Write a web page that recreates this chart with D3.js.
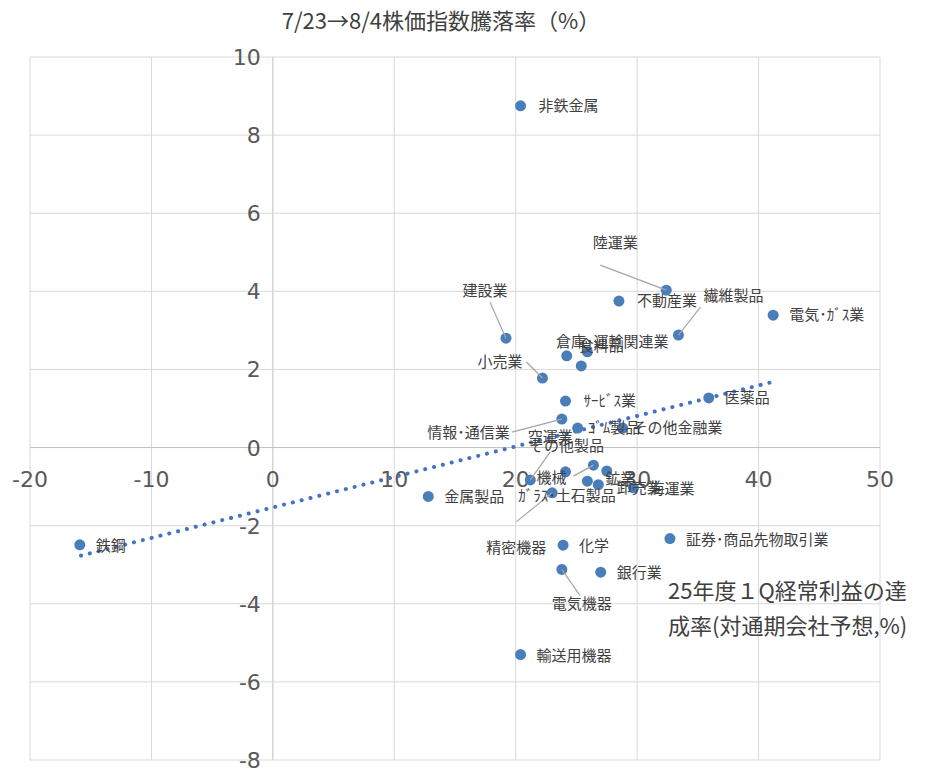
<!DOCTYPE html>
<html><head><meta charset="utf-8">
<script src="https://cdn.jsdelivr.net/npm/d3@7"></script>
<style>body{margin:0;background:#fff;font-family:"Noto Sans CJK JP",sans-serif;}</style>
</head><body><svg id="c" width="934" height="783"></svg>
<script>
// 業種, 経常利益達成率(%), 株価騰落率(%)
var names = ["非鉄金属","陸運業","不動産業","繊維製品","電気･ｶﾞｽ業","建設業","倉庫･運輸関連業","食料品","","小売業","ｻｰﾋﾞｽ業","医薬品","情報･通信業","ｺﾞﾑ製品","その他金融業","空運業","機械","その他製品","卸売業","鉱業","海運業","精密機器","金属製品","化学","証券･商品先物取引業","銀行業","電気機器","輸送用機器","鉄鋼","ｶﾞﾗｽ･土石製品"];
var xs = [20.4,32.4,28.5,33.4,41.2,19.2,25.9,24.2,25.4,22.2,24.1,35.9,23.8,25.1,28.8,21.2,24.1,26.4,27.5,25.9,29.7,23.0,12.8,23.9,32.7,27.0,23.8,20.4,-15.9,26.8];
var ys = [8.75,4.03,3.75,2.88,3.39,2.80,2.45,2.35,2.09,1.78,1.19,1.27,0.73,0.50,0.50,-0.83,-0.62,-0.45,-0.60,-0.86,-1.03,-1.16,-1.25,-2.50,-2.33,-3.19,-3.12,-5.30,-2.49,-0.95];
// label placement: [dx, dy, anchor, leader start dx, dy]
var lab = {
 "非鉄金属":[18,5,"start"],"陸運業":[-51,-42,"middle",-66,-25],"不動産業":[18,5,"start"],
 "繊維製品":[25,-34,"start",22,-28],"電気･ｶﾞｽ業":[16,5,"start"],
 "建設業":[-21,-42,"middle",-16,-36],"倉庫･運輸関連業":[25,-5,"middle"],"食料品":[12,-5,"start"],
 "小売業":[-20,-11,"end",-16,-16],"ｻｰﾋﾞｽ業":[18,5,"start"],"医薬品":[16,5,"start"],
 "情報･通信業":[-52,19,"end",-50,13],"ｺﾞﾑ製品":[10,5,"start"],"その他金融業":[10,5,"start"],
 "空運業":[20,-38,"middle",20,-28],"機械":[-14,11,"middle"],"その他製品":[-27,-14,"middle",-20,11],
 "卸売業":[10,22,"start"],"鉱業":[18,3,"start"],"海運業":[16,6,"start"],
 "精密機器":[-36,60,"middle",-36,29],"金属製品":[16,6,"start"],"化学":[16,6,"start"],
 "証券･商品先物取引業":[16,6,"start"],"銀行業":[16,6,"start"],
 "電気機器":[20,40,"middle",18,26],"輸送用機器":[16,6,"start"],"鉄鋼":[16,6,"start"],
 "ｶﾞﾗｽ･土石製品":[-80,16,"start"]
};
var xTicks = [-20,-10,0,10,20,30,40,50];
var yTicks = [-8,-6,-4,-2,0,2,4,6,8,10];
var trendX = [-15.8,41.2];

var svg = d3.select("#c");
var x = d3.scaleLinear().domain([-20,50]).range([30,880]);
var y = d3.scaleLinear().domain([-8,10]).range([760,57]);

svg.append("g").selectAll("line").data(xTicks).join("line")
  .attr("x1",d=>x(d)).attr("x2",d=>x(d)).attr("y1",y(10)).attr("y2",y(-8))
  .attr("stroke",d=>d==0?"#bfbfbf":"#d9d9d9");
svg.append("g").selectAll("line").data(yTicks).join("line")
  .attr("y1",d=>y(d)).attr("y2",d=>y(d)).attr("x1",x(-20)).attr("x2",x(50))
  .attr("stroke",d=>d==0?"#bfbfbf":"#d9d9d9");

svg.append("g").selectAll("text").data(xTicks).join("text")
  .attr("x",d=>x(d)).attr("y",y(0)+39).attr("text-anchor","middle")
  .attr("font-size",22).attr("fill","#595959").attr("font-family","Verdana,DejaVu Sans,sans-serif").text(d=>d);
svg.append("g").selectAll("text").data(yTicks).join("text")
  .attr("x",x(0)-12).attr("y",d=>y(d)+8).attr("text-anchor","end")
  .attr("font-size",22).attr("fill","#595959").attr("font-family","Verdana,DejaVu Sans,sans-serif").text(d=>d);

// trend line (linear fit)
var mx = d3.mean(xs), my = d3.mean(ys);
var b = d3.sum(xs,(v,i)=>(v-mx)*(ys[i]-my))/d3.sum(xs,v=>(v-mx)*(v-mx));
var a = my - b*mx;
svg.append("line").attr("x1",x(trendX[0])).attr("y1",y(a+b*trendX[0]))
  .attr("x2",x(trendX[1])).attr("y2",y(a+b*trendX[1]))
  .attr("stroke","#4472c4").attr("stroke-width",4).attr("stroke-dasharray","0.1 9").attr("stroke-linecap","round");

var data = names.map((nm,i)=>({n:nm,x:xs[i],y:ys[i]}));
svg.append("g").selectAll("circle").data(data).join("circle")
  .attr("cx",d=>x(d.x)).attr("cy",d=>y(d.y)).attr("r",5.5).attr("fill","#4a7ebb");

var lg = svg.append("g");
data.forEach(d=>{
  var o = lab[d.n]; if(!o) return;
  var px = x(d.x), py = y(d.y);
  if(o.length>3){
    lg.append("line").attr("x1",px+o[3]).attr("y1",py+o[4])
      .attr("x2",px).attr("y2",py).attr("stroke","#a6a6a6").attr("stroke-width",1.2);
  }
  lg.append("text").attr("x",px+o[0]).attr("y",py+o[1]).attr("text-anchor",o[2])
    .attr("font-size",15).attr("fill","#404040").text(d.n);
});

svg.append("text").attr("x",441).attr("y",29).attr("text-anchor","middle")
  .attr("font-size",22).attr("fill","#404040").text("7/23→8/4株価指数騰落率（%）");
svg.append("text").attr("x",668).attr("y",599).attr("font-size",22).attr("fill","#404040").text("25年度１Q経常利益の達");
svg.append("text").attr("x",668).attr("y",634).attr("font-size",22).attr("fill","#404040").text("成率(対通期会社予想,%)");
</script></body></html>
